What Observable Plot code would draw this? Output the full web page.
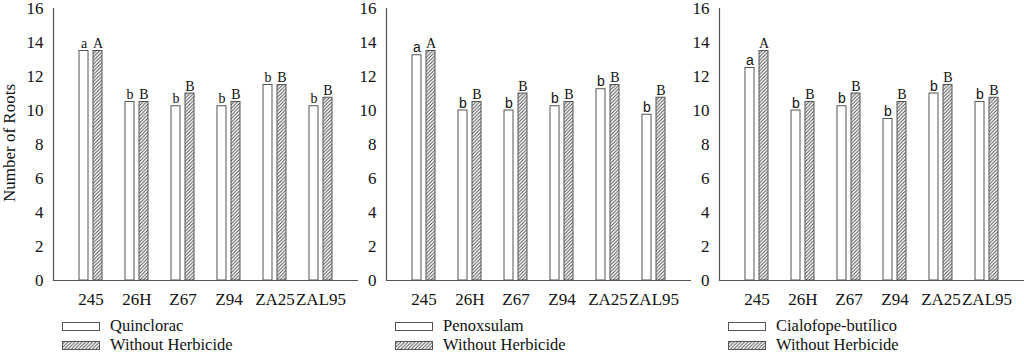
<!DOCTYPE html>
<html>
<head>
<meta charset="utf-8">
<script src="https://cdn.jsdelivr.net/npm/d3@7"></script>
<script src="https://cdn.jsdelivr.net/npm/@observablehq/plot@0.6"></script>
<style>
  html, body { margin: 0; padding: 0; background: #fff; }
  #root { position: relative; width: 1024px; height: 353px; overflow: hidden; font-family: "Liberation Serif", "Times New Roman", serif; color: #111; }
  .panel { position: absolute; top: 0; }
  .panel svg { overflow: visible; }
  .legend { position: absolute; font-size: 16.5px; }
  .legend .row { position: absolute; display: flex; align-items: center; white-space: nowrap; height: 14px; line-height: 14px; }
  .legend .sw { width: 38px; height: 9px; border: 1px solid #555; box-sizing: border-box; margin-right: 10px; }
  .ylab { position: absolute; font-size: 17px; white-space: nowrap; transform: translate(-50%, -50%) rotate(-90deg); }
</style>
</head>
<body>
<svg width="0" height="0" style="position:absolute">
  <defs>
    <pattern id="hatch" patternUnits="userSpaceOnUse" width="3.5" height="3.5">
      <path d="M0,3.5 L3.5,0 M-1,1 L1,-1 M2.5,4.5 L4.5,2.5" stroke="#444" stroke-width="0.9"/>
    </pattern>
  </defs>
</svg>
<div id="root"></div>
<script>
const groups = ["245", "26H", "Z67", "Z94", "ZA25", "ZAL95"];
const herbicides = ["Quinclorac", "Penoxsulam", "Cialofope-butílico"];
const withoutLabel = "Without Herbicide";
const quinclorac = [13.5, 10.5, 10.25, 10.25, 11.5, 10.25];
const penoxsulam = [13.25, 10, 10, 10.25, 11.25, 9.75];
const cialofope = [12.5, 10, 10.25, 9.5, 11, 10.5];
const withoutQ = [13.5, 10.5, 11, 10.5, 11.5, 10.75];
const withoutP = [13.5, 10.5, 11, 10.5, 11.5, 10.75];
const withoutC = [13.5, 10.5, 11, 10.5, 11.5, 10.75];
const lettersHerb = ["a", "b", "b", "b", "b", "b"];
const lettersWithout = ["A", "B", "B", "B", "B", "B"];
const yTicks = [0, 2, 4, 6, 8, 10, 12, 14, 16];
const yLabel = "Number of Roots";

const panels = [
  {name: herbicides[0], herb: quinclorac, without: withoutQ, lowerFont: "Liberation Serif"},
  {name: herbicides[1], herb: penoxsulam, without: withoutP, lowerFont: "Liberation Sans"},
  {name: herbicides[2], herb: cialofope, without: withoutC, lowerFont: "Liberation Sans"}
];

const root = document.getElementById("root");
const serif = "Liberation Serif, Times New Roman, serif";

panels.forEach((p, k) => {
  const data = groups.map((g, i) => ({group: g, herb: p.herb[i], without: p.without[i], lh: lettersHerb[i], lw: lettersWithout[i]}));
  const chart = Plot.plot({
    width: 358,
    height: 310,
    marginLeft: 53,
    marginRight: 0,
    marginTop: 8,
    marginBottom: 30,
    style: {fontFamily: serif, fontSize: "17px", color: "#111", background: "transparent"},
    x: {domain: groups, paddingInner: 0.5, paddingOuter: 0.55, label: null},
    y: {domain: [0, 16], ticks: yTicks, label: null},
    marks: [
      Plot.axisX({tickSize: 0, tickPadding: 12, fontSize: 17, fill: "#111", label: null}),
      Plot.axisY({ticks: yTicks, tickSize: 0, tickPadding: 10, fontSize: 17, fill: "#111", label: null}),
      Plot.barY(data, {x: "group", y: "herb", fill: "white", stroke: "#555", strokeWidth: 1, insetRight: 14}),
      Plot.barY(data, {x: "group", y: "without", fill: "url(#hatch)", stroke: "#555", strokeWidth: 1, insetLeft: 14}),
      Plot.text(data, {x: "group", y: "herb", text: "lh", dx: -7, dy: -3, lineAnchor: "bottom", fontSize: 14, fill: "#111", fontFamily: p.lowerFont}),
      Plot.text(data, {x: "group", y: "without", text: "lw", dx: 7, dy: -3, lineAnchor: "bottom", fontSize: 14, fill: "#111", fontFamily: serif}),
      Plot.ruleY([0], {stroke: "#555", strokeWidth: 1.2}),
      Plot.frame({anchor: "left", stroke: "#555", strokeWidth: 1.2})
    ]
  });
  const wrap = document.createElement("div");
  wrap.className = "panel";
  wrap.style.left = (k * 333) + "px";
  wrap.appendChild(chart);
  root.appendChild(wrap);

  const leg = document.createElement("div");
  leg.className = "legend";
  leg.style.left = (k * 333 + 62) + "px";
  leg.style.top = "0px";
  const r1 = document.createElement("div");
  r1.className = "row";
  r1.style.top = "319px";
  r1.innerHTML = '<div class="sw" style="background:#fff"></div><span></span>';
  r1.querySelector("span").textContent = p.name;
  const r2 = document.createElement("div");
  r2.className = "row";
  r2.style.top = "338px";
  r2.innerHTML = '<svg width="38" height="9" style="margin-right:10px;display:block"><rect x="0.5" y="0.5" width="37" height="8" fill="url(#hatch)" stroke="#555"/></svg><span></span>';
  r2.querySelector("span").textContent = withoutLabel;
  leg.appendChild(r1);
  leg.appendChild(r2);
  root.appendChild(leg);
});

const yl = document.createElement("div");
yl.className = "ylab";
yl.style.left = "10px";
yl.style.top = "143px";
yl.textContent = yLabel;
root.appendChild(yl);
</script>
</body>
</html>
